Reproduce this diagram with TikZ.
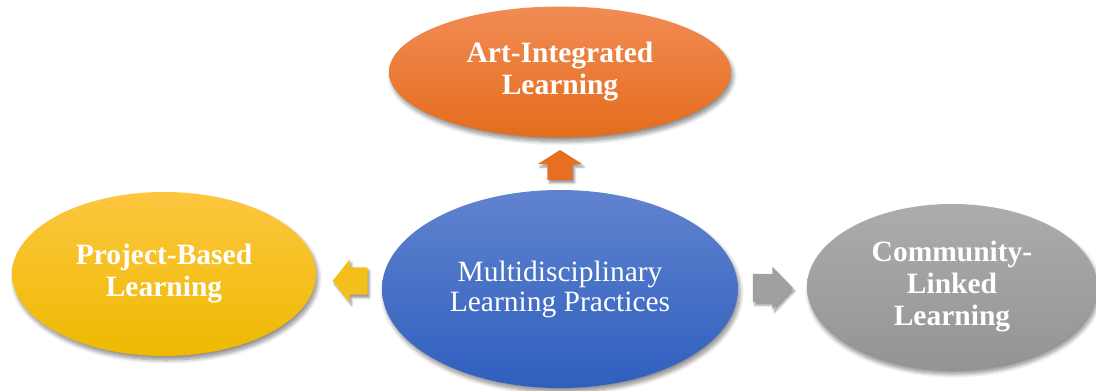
\documentclass[tikz,border=0pt]{standalone}
\usepackage{fontspec}
\setmainfont{Liberation Serif}
\usetikzlibrary{shapes.geometric}
\usetikzlibrary{shapes.arrows}
\usetikzlibrary{shadows.blur}

\definecolor{orangeTop}{RGB}{241,140,85}
\definecolor{orangeBot}{RGB}{229,108,28}
\definecolor{blueTop}{RGB}{96,131,206}
\definecolor{blueBot}{RGB}{47,95,190}
\definecolor{yellowTop}{RGB}{253,198,64}
\definecolor{yellowBot}{RGB}{238,186,0}
\definecolor{grayTop}{RGB}{172,172,172}
\definecolor{grayBot}{RGB}{148,148,148}

\tikzset{
  blob/.style={ellipse, inner sep=0pt, align=center, text=white,
    blur shadow={shadow xshift=2pt, shadow yshift=-4pt, shadow blur steps=8, shadow blur radius=4pt, shadow opacity=45}},
  outertext/.style={font=\bfseries\fontsize{29.5}{32}\selectfont},
  blockarrow/.style={single arrow, inner xsep=0pt, single arrow head indent=0pt,
    blur shadow={shadow xshift=2pt, shadow yshift=-3pt, shadow blur steps=5, shadow blur radius=2pt, shadow opacity=40}}
}

\begin{document}
\begin{tikzpicture}[x=1pt,y=-1pt]
                \useasboundingbox (0,0) rectangle (1096,391);

                % the four ellipses
                \node[blob, outertext, minimum width=342pt, minimum height=131pt,
                      top color=orangeTop, bottom color=orangeBot] (art) at (560,72)
                      {Art-Integrated\\Learning};
                \node[blob, outertext, minimum width=304pt, minimum height=164pt,
                      top color=yellowTop, bottom color=yellowBot] (project) at (164,274)
                      {Project-Based\\Learning};
                \node[blob, outertext, minimum width=290pt, minimum height=166pt,
                      top color=grayTop, bottom color=grayBot] (community) at (952,287)
                      {Community-\\Linked\\Learning};
                \node[blob, font=\fontsize{29.5}{30}\selectfont, minimum width=356pt, minimum height=198pt,
                      top color=blueTop, bottom color=blueBot] (practices) at (560,289)
                      {Multidisciplinary\\Learning Practices};

                % block arrows out of the centre
                \node[blockarrow, rotate=90, minimum height=30pt, inner ysep=12.5pt,
                      single arrow head extend=9.5pt, single arrow tip angle=115,
                      fill=orangeBot!90!orangeTop] (upArrow) at (560,169) {};
                \node[blockarrow, rotate=180, minimum height=35pt, inner ysep=13.5pt,
                      single arrow head extend=8pt, single arrow tip angle=103,
                      fill=yellowTop!40!yellowBot] (leftArrow) at (355.5,281) {};
                \node[blockarrow, minimum height=40pt, inner ysep=14pt,
                      single arrow head extend=7pt, single arrow tip angle=92,
                      fill=grayTop!50!grayBot] (rightArrow) at (766,288) {};
            \end{tikzpicture}
\end{document}
